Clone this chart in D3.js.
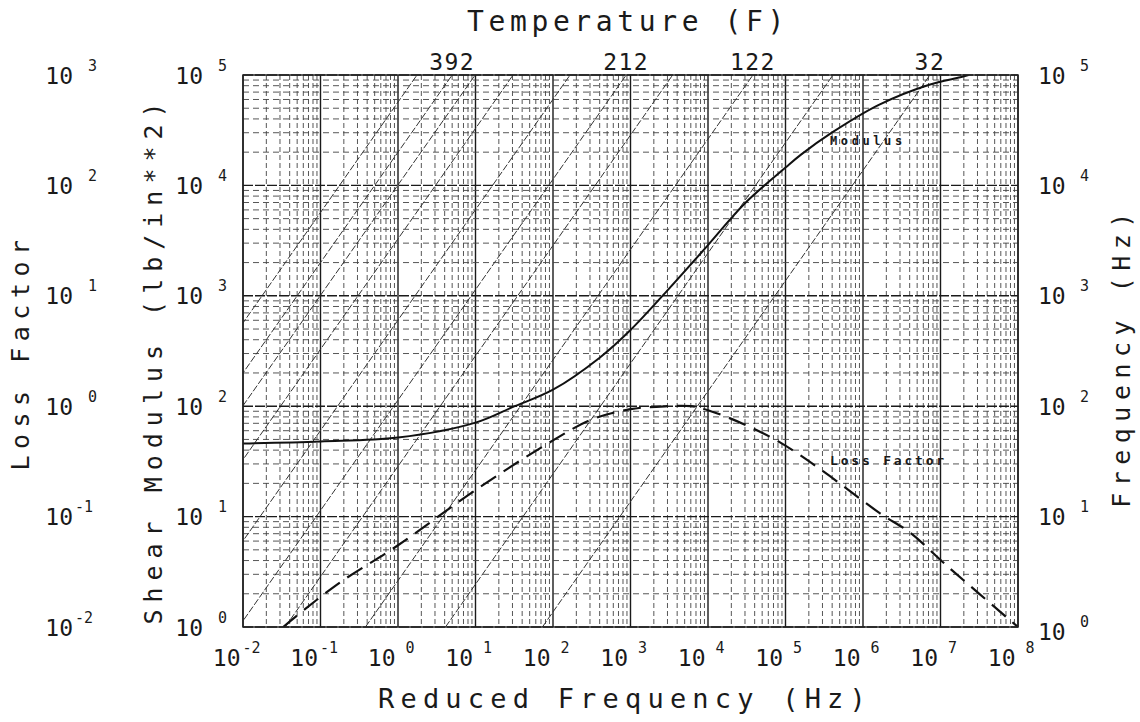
<!DOCTYPE html>
<html>
<head>
<meta charset="utf-8">
<script src="https://cdn.jsdelivr.net/npm/d3@7"></script>
<style>
  body { margin: 0; background: #fff; }
  svg { display: block; }
  text { font-family: "DejaVu Sans Mono", "Liberation Mono", monospace; fill: #1a1a1a; }
</style>
</head>
<body>
<div id="chart"></div>
<script>
const width = 1140;
const height = 722;

// modulus curve: reduced frequency (Hz) -> shear modulus (lb/in**2)
const modFreq = [1e-2, 1e-1, 1, 10, 30, 100, 400, 1e3, 3e3, 1e4, 3e4, 1e5, 1.6e5, 4e5, 1.6e6, 7e6, 1.8e7, 2.3e7];
const modValue = [46, 48, 52, 71, 98, 141, 275, 490, 1120, 2880, 6900, 14500, 19100, 30200, 53700, 81300, 95500, 100000];

// loss factor curve: reduced frequency (Hz) -> loss factor
const lossFreq = [3.3e-2, 0.16, 1, 10, 100, 320, 1e3, 3e3, 6e3, 1e4, 3e4, 8.5e4, 3e5, 1.66e6, 4e6, 1.26e7, 1e8];
const lossValue = [0.01, 0.024, 0.055, 0.174, 0.49, 0.76, 0.94, 1.0, 1.0, 0.92, 0.68, 0.47, 0.26, 0.107, 0.072, 0.035, 0.01];

// isotherms: temperature (F) and shift factor aT (reduced freq = freq * aT)
const isoTemp = [437, 392, 347, 302, 257, 212, 167, 122, 77, 32];
const isoShift = [1.76e-5, 5.0e-5, 9.9e-5, 3.05e-4, 1.66e-3, 8.8e-3, 3.5e-2, 0.38, 4.1, 73];
const labelledTemps = [392, 212, 122, 32];

// tick exponents
const xExp = d3.range(-2, 9);
const modExp = d3.range(0, 6);
const lossExp = d3.range(-2, 4);
const freqExp = d3.range(0, 6);

const plot = { left: 243, right: 1018, top: 75, bottom: 627 };

const x = d3.scaleLog().domain([1e-2, 1e8]).range([plot.left, plot.right]);
const yMod = d3.scaleLog().domain([1, 1e5]).range([plot.bottom, plot.top]);
const yLoss = d3.scaleLog().domain([1e-2, 1e3]).range([plot.bottom, plot.top]);
const yFreq = d3.scaleLog().domain([1, 1e5]).range([plot.bottom, plot.top]);

const svg = d3.select("#chart").append("svg")
    .attr("width", width)
    .attr("height", height);

svg.append("rect").attr("width", width).attr("height", height).attr("fill", "#fff");

svg.append("clipPath").attr("id", "clip")
  .append("rect")
    .attr("x", plot.left).attr("y", plot.top)
    .attr("width", plot.right - plot.left)
    .attr("height", plot.bottom - plot.top);

// log grid values (1..9 per decade)
function logValues(lo, hi) {
    const out = [];
    for (let e = lo; e < hi; e++) {
        for (let k = 1; k < 10; k++) out.push({ v: k * 10 ** e, major: k === 1 });
    }
    out.push({ v: 10 ** hi, major: true });
    return out;
}

const grid = svg.append("g");
grid.selectAll("line.v")
  .data(logValues(-2, 8))
  .join("line")
    .attr("x1", d => x(d.v)).attr("x2", d => x(d.v))
    .attr("y1", plot.top).attr("y2", plot.bottom)
    .attr("stroke", d => d.major ? "#1a1a1a" : "#444")
    .attr("stroke-width", d => d.major ? 1.4 : 0.9)
    .attr("stroke-dasharray", d => d.major ? null : "5,3");

grid.selectAll("line.h")
  .data(logValues(0, 5))
  .join("line")
    .attr("x1", plot.left).attr("x2", plot.right)
    .attr("y1", d => yMod(d.v)).attr("y2", d => yMod(d.v))
    .attr("stroke", d => d.major ? "#1a1a1a" : "#444")
    .attr("stroke-width", d => d.major ? 1.4 : 0.9)
    .attr("stroke-dasharray", d => d.major ? "10,2" : "6,4");

// isotherms
const iso = svg.append("g").attr("clip-path", "url(#clip)");
iso.selectAll("line")
  .data(isoShift)
  .join("line")
    .attr("x1", d => x(1 * d)).attr("y1", yFreq(1))
    .attr("x2", d => x(1e5 * d)).attr("y2", yFreq(1e5))
    .attr("stroke", "#333")
    .attr("stroke-width", 1)
    .attr("stroke-dasharray", "7,2");

// curves
const curves = svg.append("g").attr("clip-path", "url(#clip)");
curves.append("path")
    .datum(d3.zip(modFreq, modValue))
    .attr("fill", "none")
    .attr("stroke", "#111")
    .attr("stroke-width", 2)
    .attr("d", d3.line().x(d => x(d[0])).y(d => yMod(d[1])).curve(d3.curveCatmullRom.alpha(0.5)));

curves.append("path")
    .datum(d3.zip(lossFreq, lossValue))
    .attr("fill", "none")
    .attr("stroke", "#111")
    .attr("stroke-width", 2.2)
    .attr("stroke-dasharray", "18,9")
    .attr("d", d3.line().x(d => x(d[0])).y(d => yLoss(d[1])).curve(d3.curveCatmullRom.alpha(0.5)));

// frame
svg.append("rect")
    .attr("x", plot.left).attr("y", plot.top)
    .attr("width", plot.right - plot.left)
    .attr("height", plot.bottom - plot.top)
    .attr("fill", "none")
    .attr("stroke", "#222")
    .attr("stroke-width", 1.5);

// "10" with a superscript exponent
function powLabel(sel, exp, o) {
    sel.append("text")
        .attr("x", o.x).attr("y", o.y)
        .attr("text-anchor", o.anchor)
        .attr("dominant-baseline", "central")
        .attr("font-size", 23)
        .text("10");
    sel.append("text")
        .attr("x", o.x + (exp < 0 ? o.supNeg : o.supPos)).attr("y", o.y - 10)
        .attr("text-anchor", "start")
        .attr("dominant-baseline", "central")
        .attr("font-size", 15)
        .text(exp < 0 ? "-" + Math.abs(exp) : String(exp));
}

// bottom axis
svg.append("g")
    .attr("transform", `translate(0,${plot.bottom})`)
    .call(d3.axisBottom(x).tickValues(xExp.map(e => 10 ** e)).tickSize(0).tickFormat(""))
    .call(g => g.select(".domain").remove())
    .selectAll(".tick").each(function(d) {
        powLabel(d3.select(this), Math.round(Math.log10(d)), { x: -3, y: 31, anchor: "end", supPos: 10, supNeg: 2 });
    });

// left modulus axis
svg.append("g")
    .attr("transform", `translate(${plot.left},0)`)
    .call(d3.axisLeft(yMod).tickValues(modExp.map(e => 10 ** e)).tickSize(0).tickFormat(""))
    .call(g => g.select(".domain").remove())
    .selectAll(".tick").each(function(d) {
        powLabel(d3.select(this), Math.round(Math.log10(d)), { x: -40, y: 0, anchor: "end", supPos: 15, supNeg: 2 });
    });

// far-left loss factor axis
svg.append("g")
    .attr("transform", "translate(73,0)")
    .call(d3.axisLeft(yLoss).tickValues(lossExp.map(e => 10 ** e)).tickSize(0).tickFormat(""))
    .call(g => g.select(".domain").remove())
    .selectAll(".tick").each(function(d) {
        powLabel(d3.select(this), Math.round(Math.log10(d)), { x: 0, y: 0, anchor: "end", supPos: 15, supNeg: 2 });
    });

// right frequency axis
svg.append("g")
    .attr("transform", `translate(${plot.right},0)`)
    .call(d3.axisRight(yFreq).tickValues(freqExp.map(e => 10 ** e)).tickSize(0).tickFormat(""))
    .call(g => g.select(".domain").remove())
    .selectAll(".tick").each(function(d) {
        powLabel(d3.select(this), Math.round(Math.log10(d)), { x: 20, y: d === 1 ? 4 : 0, anchor: "start", supPos: 42, supNeg: 34 });
    });

// temperature labels at the top end of the isotherms
svg.append("g").selectAll("text")
  .data(labelledTemps)
  .join("text")
    .attr("x", t => x(1e5 * isoShift[isoTemp.indexOf(t)]))
    .attr("y", 70)
    .attr("text-anchor", "middle")
    .attr("font-size", 23)
    .attr("letter-spacing", 1.5)
    .text(t => t);

// titles
svg.append("text")
    .attr("x", 628).attr("y", 31)
    .attr("text-anchor", "middle")
    .attr("font-size", 28)
    .attr("letter-spacing", 4.6)
    .text("Temperature (F)");

svg.append("text")
    .attr("x", 625).attr("y", 708)
    .attr("text-anchor", "middle")
    .attr("font-size", 27)
    .attr("letter-spacing", 6.2)
    .text("Reduced Frequency (Hz)");

function sideTitle(label, cx, cy, ls) {
    svg.append("text")
        .attr("transform", `translate(${cx},${cy}) rotate(-90)`)
        .attr("text-anchor", "middle")
        .attr("dominant-baseline", "central")
        .attr("font-size", 25)
        .attr("letter-spacing", ls)
        .text(label);
}
sideTitle("Loss Factor", 20, 352, 6.5);
sideTitle("Shear Modulus (lb/in**2)", 153, 360, 7);
sideTitle("Frequency (Hz)", 1121, 357, 6.5);

// curve labels
svg.append("text")
    .attr("x", 830).attr("y", 145)
    .attr("font-size", 12).attr("font-weight", "bold")
    .attr("letter-spacing", 3.6)
    .text("Modulus");

svg.append("text")
    .attr("x", 830).attr("y", 465)
    .attr("font-size", 13).attr("font-weight", "bold")
    .attr("letter-spacing", 2.8)
    .text("Loss Factor");
</script>
</body>
</html>
